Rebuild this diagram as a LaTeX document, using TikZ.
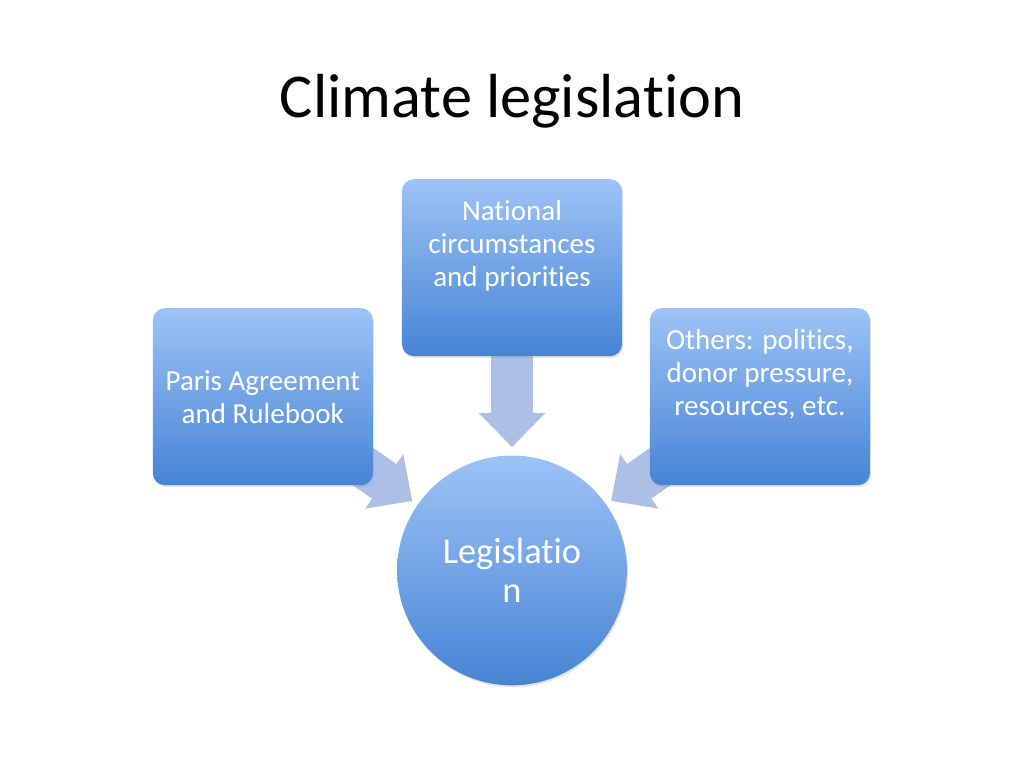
\documentclass[tikz,border=0pt]{standalone}
\usepackage{fontspec}
\setmainfont{Carlito}[Ligatures=NoCommon]
\usetikzlibrary{arrows.meta,backgrounds,calc,shadows}

\definecolor{boxtop}{RGB}{157,195,246}
\definecolor{boxbot}{RGB}{70,132,212}
\definecolor{arrfill}{RGB}{172,192,230}

\tikzset{
  grad/.style={top color=boxtop, bottom color=boxbot, draw=none,
    drop shadow={shadow xshift=0.03cm, shadow yshift=-0.05cm, opacity=0.2}},
  factorbox/.style={grad, rounded corners=0.3cm, minimum width=5.46cm,
    minimum height=4.39cm, inner sep=0pt, text=white, align=center,
    font=\fontsize{20.5}{23.2}\selectfont},
  hubcircle/.style={grad, circle, minimum size=5.7cm, inner sep=0pt,
    text=white, align=center, font=\fontsize{25.7}{28}\selectfont},
  blockarr/.style={line width=1.05cm, arrfill,
    -{Triangle[length=0.85cm,width=1.6cm]}}
}
\newcommand{\toptext}[1]{\parbox[c][4.39cm][t]{5.4cm}{\vspace*{0.53cm}\centering #1}}

\begin{document}
\begin{tikzpicture}

    \useasboundingbox (0,0) rectangle (25.4,19.05);

    \node (title) at (12.70,16.14) [anchor=base, font=\fontsize{44}{53}\selectfont] {Climate legislation};

    \node (natl) at (12.70,12.41) [factorbox] {\toptext{National\\circumstances\\and priorities}};
    \node (paris) at (6.52,9.21) [factorbox] {Paris Agreement\\and Rulebook};
    \node (others) at (18.85,9.21) [factorbox] {\toptext{Others: politics,\\donor pressure,\\resources, etc.}};

    \node (legis) at (12.70,4.90) [hubcircle] {Legislatio\\n};

    \begin{scope}[on background layer]
        \fill [white] (0,0) rectangle (25.4,19.05);
        \draw [blockarr] (natl.center) -- ($(legis.north)+(0,0.2)$);
        \draw [blockarr] (paris.center) -- ($(legis.center)!0.40!(paris.center)$);
        \draw [blockarr] (others.center) -- ($(legis.center)!0.40!(others.center)$);
    \end{scope}

\end{tikzpicture}
\end{document}
